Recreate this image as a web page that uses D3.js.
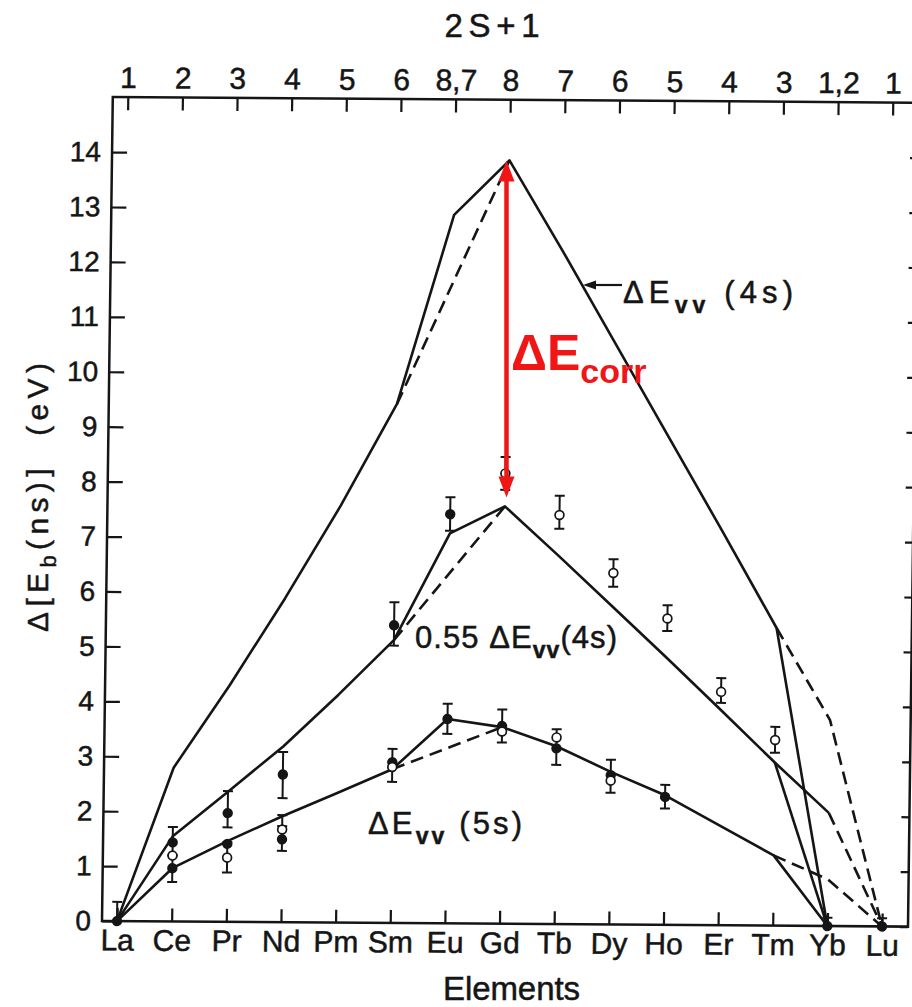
<!DOCTYPE html>
<html>
<head>
<meta charset="utf-8">
<script src="https://cdn.jsdelivr.net/npm/d3@7"></script>
<style>
  body { margin: 0; background: #fff; }
  svg { display: block; font-family: "Liberation Sans", Arial, sans-serif; }
  .ink-text { stroke: #151515; stroke-width: 0.5px; }
</style>
</head>
<body>
<svg id="chart" width="912" height="1007"></svg>
<script>
var elements = ["La","Ce","Pr","Nd","Pm","Sm","Eu","Gd","Tb","Dy","Ho","Er","Tm","Yb","Lu"];
var spinLabels = ["1","2","3","4","5","6","8,7","8","7","6","5","4","3","1,2","1"];
var yTicks = [0,1,2,3,4,5,6,7,8,9,10,11,12,13,14];

// Delta E_vv(4s), solid, La..Yb
var evv4s = [0, 2.8, 4.3, 5.9, 7.6, 9.45, 12.9, 13.9, 12.25, 10.55, 8.85, 7.15, 5.42, 0];
var evv4sDashSmGd = [["Sm", 9.45], ["Gd", 13.9]];
var evv4sDashTail = [["Tm", 5.42], ["Yb", 3.75], ["Lu", 0]];

// 0.55 Delta E_vv(4s), solid, La..Yb
var evv55 = [0, 1.55, 2.37, 3.2, 4.15, 5.15, 7.1, 7.6, 6.7, 5.78, 4.86, 3.92, 2.97, 2.06];
var evv55DashSmGd = [["Sm", 5.15], ["Gd", 7.6]];
var evv55DropTmYb = [["Tm", 2.97], ["Yb", 0]];
var evv55DashTail = [["Yb", 2.06], ["Lu", 0]];

// Delta E_vv(5s), solid, La..Yb
var evv5s = [0, 0.97, 1.47, 1.93, 2.36, 2.8, 3.72, 3.58, 3.24, 2.78, 2.36, 1.82, 1.28, 0];
var evv5sDashSmGd = [["Sm", 2.8], ["Gd", 3.58]];
var evv5sDashTail = [["Tm", 1.28], ["Yb", 0.85], ["Lu", 0]];

// measured points: [element, value, err low, err high]
var filledPts = [
  ["La", 0, 0, 0.35],
  ["Ce", 1.44, 1.2, 1.72],
  ["Ce", 0.97, 0.72, 1.2],
  ["Pr", 1.98, 1.72, 2.38],
  ["Pr", 1.42, null, null],
  ["Nd", 2.69, 2.26, 3.1],
  ["Nd", 1.51, 1.3, 1.75],
  ["Sm", 2.93, 2.57, 3.17],
  ["Sm", 5.42, 5.05, 5.84],
  ["Eu", 7.45, 7.15, 7.76],
  ["Eu", 3.72, 3.45, 4.0],
  ["Gd", 3.6, 3.3, 3.9],
  ["Tb", 3.2, 2.9, 3.55],
  ["Dy", 2.72, 2.4, 3.0],
  ["Ho", 2.33, 2.12, 2.55],
  ["Yb", 0, 0, 0.15],
  ["Lu", 0, 0, 0.15]
];
var openPts = [
  ["Ce", 1.2, null, null],
  ["Pr", 1.17, 0.9, 1.45],
  ["Nd", 1.69, 1.5, 1.95],
  ["Sm", 2.84, null, null],
  ["Gd", 8.2, 7.9, 8.5],
  ["Gd", 3.5, null, null],
  ["Tb", 7.45, 7.2, 7.8],
  ["Tb", 3.4, null, null],
  ["Dy", 6.4, 6.15, 6.65],
  ["Dy", 2.62, null, null],
  ["Ho", 5.58, 5.35, 5.82],
  ["Er", 4.25, 4.05, 4.5],
  ["Tm", 3.38, 3.15, 3.62]
];

var ink = "#151515";
var red = "#f01616";

var svg = d3.select("#chart");

var x = d3.scalePoint().domain(elements).range([117, 882]);
var y = d3.scaleLinear().domain([0, 14]).range([921, 152]);

// the scanned figure is slightly rotated / sheared
var plot = svg.append("g")
    .attr("transform", "rotate(0.4,102,921) translate(102,921) skewX(-0.35) translate(-102,-921)");

plot.append("rect")
    .attr("x", 102).attr("y", 97)
    .attr("width", 806).attr("height", 824)
    .attr("fill", "none").attr("stroke", ink).attr("stroke-width", 2.5);

function styleAxis(g, size) {
  g.select(".domain").remove();
  g.selectAll(".tick line").attr("stroke", ink).attr("stroke-width", 2.2);
  g.attr("font-family", "'Liberation Sans', Arial, sans-serif")
   .attr("font-size", size)
   .selectAll("text").attr("fill", ink).attr("class", "ink-text");
}

// left
plot.append("g").attr("transform", "translate(102,0)")
    .call(d3.axisRight(y).tickValues(yTicks).tickSize(15).tickFormat(""))
    .call(styleAxis, 28);
plot.append("g").attr("transform", "translate(102,0)")
    .call(d3.axisLeft(y).tickValues(yTicks).tickSize(0).tickPadding(11).tickFormat(d3.format("d")))
    .call(styleAxis, 28);
// right
plot.append("g").attr("transform", "translate(908,0)")
    .call(d3.axisLeft(y).tickValues(yTicks).tickSize(8).tickFormat(""))
    .call(styleAxis, 28);
// bottom
plot.append("g").attr("transform", "translate(0,921)")
    .call(d3.axisTop(x).tickSize(13).tickFormat(""))
    .call(styleAxis, 30);
plot.append("g").attr("transform", "translate(0,921)")
    .call(d3.axisBottom(x).tickSize(0).tickPadding(8))
    .call(styleAxis, 30);
// top (2S+1)
plot.append("g").attr("transform", "translate(0,97)")
    .call(d3.axisBottom(x).tickSize(13).tickFormat(""))
    .call(styleAxis, 30);
plot.append("g").attr("transform", "translate(0,97)")
    .call(d3.axisTop(x).tickSize(0).tickPadding(9).tickFormat(function(d, i) { return spinLabels[i]; }))
    .call(styleAxis, 30);

var line = d3.line().x(function(d) { return x(d[0]); }).y(function(d) { return y(d[1]); });
function pairs(vals) { return vals.map(function(v, i) { return [elements[i], v]; }); }

function drawLine(data, dashed) {
  plot.append("path")
      .datum(data)
      .attr("d", line)
      .attr("fill", "none")
      .attr("stroke", ink)
      .attr("stroke-width", 2.6)
      .attr("stroke-linejoin", "round")
      .attr("stroke-dasharray", dashed ? "13,7" : null);
}

drawLine(pairs(evv4s), false);
drawLine(evv4sDashSmGd, true);
drawLine(evv4sDashTail, true);
drawLine(pairs(evv55), false);
drawLine(evv55DashSmGd, true);
drawLine(evv55DropTmYb, false);
drawLine(evv55DashTail, true);
drawLine(pairs(evv5s), false);
drawLine(evv5sDashSmGd, true);
drawLine(evv5sDashTail, true);

// error bars
var allPts = filledPts.concat(openPts).filter(function(d) { return d[2] !== null; });
var eb = plot.append("g").attr("stroke", ink).attr("stroke-width", 2);
allPts.forEach(function(d) {
  var cx = x(d[0]);
  eb.append("line").attr("x1", cx).attr("x2", cx).attr("y1", y(d[2])).attr("y2", y(d[3]));
  eb.append("line").attr("x1", cx - 5).attr("x2", cx + 5).attr("y1", y(d[2])).attr("y2", y(d[2]));
  eb.append("line").attr("x1", cx - 5).attr("x2", cx + 5).attr("y1", y(d[3])).attr("y2", y(d[3]));
});

plot.selectAll("circle.filled")
    .data(filledPts).enter().append("circle")
    .attr("class", "filled")
    .attr("cx", function(d) { return x(d[0]); })
    .attr("cy", function(d) { return y(d[1]); })
    .attr("r", 5.2).attr("fill", ink);

plot.selectAll("circle.open")
    .data(openPts).enter().append("circle")
    .attr("class", "open")
    .attr("cx", function(d) { return x(d[0]); })
    .attr("cy", function(d) { return y(d[1]); })
    .attr("r", 4.4).attr("fill", "#fff")
    .attr("stroke", ink).attr("stroke-width", 1.7);

// axis titles
svg.append("text")
    .attr("class", "ink-text")
    .attr("x", 492).attr("y", 37)
    .attr("text-anchor", "middle")
    .attr("font-size", 33).attr("fill", ink)
    .attr("textLength", 95).attr("lengthAdjust", "spacing")
    .text("2S+1");

svg.append("text")
    .attr("class", "ink-text")
    .attr("x", 443).attr("y", 1000)
    .attr("font-size", 33).attr("fill", ink)
    .attr("textLength", 137).attr("lengthAdjust", "spacing")
    .text("Elements");

var yl = svg.append("text")
    .attr("class", "ink-text")
    .attr("transform", "translate(48,632) rotate(-90)")
    .attr("font-size", 30).attr("fill", ink)
    .attr("textLength", 269).attr("lengthAdjust", "spacing");
yl.append("tspan").text("\u0394[E");
yl.append("tspan").attr("dy", 8).attr("font-size", 22).text("b");
yl.append("tspan").attr("dy", -8).text("(ns)]\u00a0\u00a0(eV)");

// curve labels
function curveLabel(x0, y0, len, pre, post) {
  var t = svg.append("text")
      .attr("class", "ink-text")
      .attr("x", x0).attr("y", y0)
      .attr("font-size", 31).attr("fill", ink)
      .attr("textLength", len).attr("lengthAdjust", "spacing");
  t.append("tspan").text(pre + "\u0394E");
  t.append("tspan").attr("dy", 10).attr("font-size", 23).attr("font-weight", "bold").text("vv");
  t.append("tspan").attr("dy", -10).text(post);
}
curveLabel(623, 303, 170, "", "\u00a0(4s)");
curveLabel(415, 648, 202, "0.55\u00a0", "(4s)");
curveLabel(368, 834, 154, "", "\u00a0(5s)");

// arrow pointing at the 4s curve
svg.append("line")
    .attr("x1", 592).attr("x2", 622).attr("y1", 285).attr("y2", 285)
    .attr("stroke", ink).attr("stroke-width", 2.2);
svg.append("path")
    .attr("d", "M583,285 L596,280.5 L596,289.5 Z")
    .attr("fill", ink);

// red correction arrow at Gd
var ax = x("Gd") + 7;
var yTop = y(evv4s[7]) + 3;
var yBot = y(evv55[7]) - 6;
svg.append("line")
    .attr("x1", ax).attr("x2", ax)
    .attr("y1", yTop + 16).attr("y2", yBot - 16)
    .attr("stroke", red).attr("stroke-width", 4.5);
svg.append("path")
    .attr("d", "M" + ax + "," + yTop + " L" + (ax - 8) + "," + (yTop + 21) + " L" + (ax + 8) + "," + (yTop + 21) + " Z")
    .attr("fill", red);
svg.append("path")
    .attr("d", "M" + ax + "," + yBot + " L" + (ax - 8) + "," + (yBot - 21) + " L" + (ax + 8) + "," + (yBot - 21) + " Z")
    .attr("fill", red);

var corr = svg.append("text")
    .attr("x", 511).attr("y", 370)
    .attr("font-size", 50).attr("font-weight", "bold").attr("fill", red);
corr.append("tspan").text("\u0394E");
corr.append("tspan").attr("dy", 13).attr("font-size", 34).text("corr");
</script>
</body>
</html>
